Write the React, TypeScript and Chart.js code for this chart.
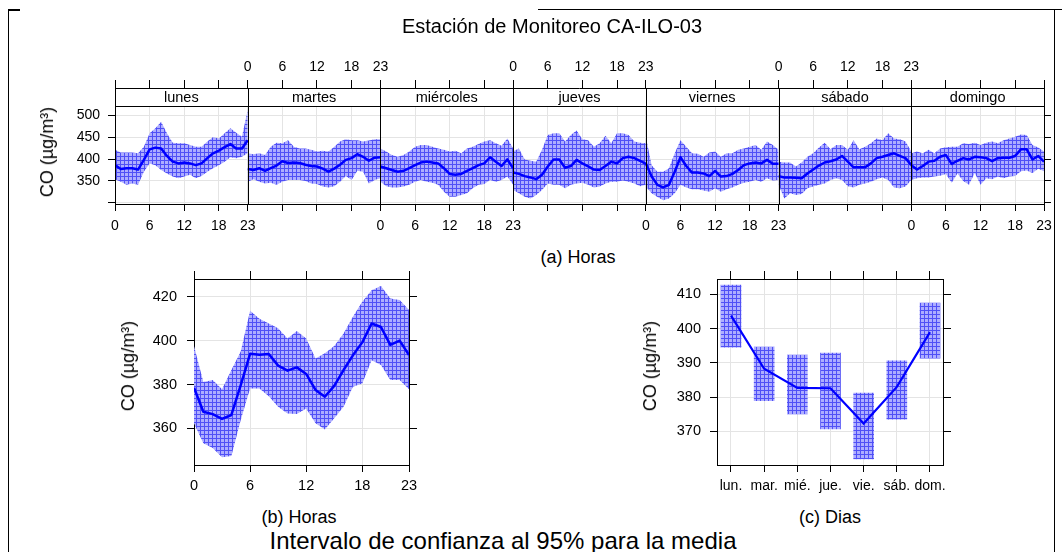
import React, { useEffect, useRef } from 'react';
import { Chart, registerables } from 'chart.js';

Chart.register(...registerables);

const FONT = "'Liberation Sans', Arial, Helvetica, sans-serif";

// ---------- categories ----------
const dayNames = ['lunes', 'martes', 'miércoles', 'jueves', 'viernes', 'sábado', 'domingo'];
const dayShort = ['lun.', 'mar.', 'mié.', 'jue.', 'vie.', 'sáb.', 'dom.'];
const hours = [0, 1, 2, 3, 4, 5, 6, 7, 8, 9, 10, 11, 12, 13, 14, 15, 16, 17, 18, 19, 20, 21, 22, 23];
const hourTicks = [0, 6, 12, 18, 23];

// ---------- (a) hour x weekday ----------
const lunesMean = [386, 377, 379, 379, 376, 398, 422, 426, 424, 407, 394, 390, 392, 390, 386, 390, 402, 413, 419, 427, 434, 424, 424, 443];
const lunesUpper = [421, 415, 415, 415, 413, 428, 459, 470, 485, 459, 437, 436, 436, 432, 428, 428, 440, 450, 447, 459, 470, 460, 451, 512];
const lunesLower = [354, 348, 341, 344, 341, 371, 390, 386, 375, 367, 360, 356, 360, 364, 356, 361, 371, 379, 386, 394, 404, 402, 405, 413];

const martesMean = [377, 375, 379, 373, 379, 385, 395, 391, 392, 391, 387, 384, 383, 378, 371, 378, 387, 398, 402, 411, 405, 396, 403, 404];
const martesUpper = [413, 411, 413, 409, 428, 437, 436, 443, 428, 424, 424, 421, 417, 419, 417, 428, 440, 445, 443, 443, 440, 442, 445, 445];
const martesLower = [348, 354, 348, 344, 346, 341, 348, 352, 352, 352, 350, 344, 343, 337, 335, 338, 348, 361, 352, 373, 371, 344, 352, 356];

const miercolesMean = [383, 379, 375, 371, 373, 379, 386, 392, 394, 392, 390, 379, 366, 364, 366, 373, 379, 386, 390, 404, 394, 384, 399, 379];
const miercolesUpper = [424, 417, 409, 405, 409, 417, 428, 432, 432, 428, 424, 421, 417, 419, 413, 424, 428, 434, 440, 443, 436, 430, 447, 424];
const miercolesLower = [348, 338, 335, 335, 337, 341, 348, 352, 348, 346, 341, 325, 314, 314, 318, 322, 333, 341, 343, 352, 348, 352, 360, 341];

const juevesMean = [369, 366, 361, 358, 354, 364, 383, 399, 399, 380, 384, 398, 390, 383, 376, 375, 384, 394, 390, 402, 405, 402, 396, 389];
const juevesUpper = [418, 424, 399, 396, 394, 421, 455, 459, 459, 440, 455, 465, 445, 443, 428, 436, 453, 436, 459, 459, 455, 440, 437, 436];
const juevesLower = [329, 322, 314, 310, 318, 329, 344, 341, 341, 333, 341, 344, 346, 341, 335, 337, 344, 348, 348, 351, 348, 344, 338, 341];

const viernesMean = [390, 360, 341, 335, 341, 371, 404, 384, 369, 369, 367, 361, 373, 360, 361, 366, 375, 386, 390, 392, 390, 398, 389, 389];
const viernesUpper = [451, 386, 371, 371, 379, 413, 443, 428, 413, 412, 405, 415, 417, 405, 413, 413, 421, 424, 428, 432, 421, 440, 432, 421];
const viernesLower = [337, 322, 313, 306, 310, 322, 341, 335, 331, 331, 328, 325, 333, 325, 331, 335, 341, 346, 348, 352, 348, 356, 351, 352];

const sabadoMean = [361, 358, 358, 357, 356, 367, 376, 385, 392, 395, 399, 407, 394, 381, 381, 381, 390, 402, 405, 409, 413, 407, 402, 386];
const sabadoUpper = [394, 392, 392, 383, 392, 405, 413, 426, 437, 422, 432, 432, 421, 443, 422, 428, 436, 447, 443, 459, 447, 445, 440, 417];
const sabadoLower = [341, 310, 322, 318, 320, 333, 337, 341, 344, 352, 356, 352, 338, 335, 341, 344, 348, 354, 358, 352, 335, 333, 337, 352];

const domingoMean = [386, 376, 384, 394, 396, 405, 409, 389, 396, 402, 399, 405, 404, 402, 395, 402, 403, 403, 407, 422, 422, 399, 407, 394];
const domingoUpper = [413, 417, 413, 421, 413, 424, 427, 428, 428, 436, 434, 437, 432, 437, 440, 436, 443, 447, 451, 456, 455, 432, 426, 417];
const domingoLower = [352, 356, 358, 358, 360, 362, 366, 346, 367, 350, 341, 368, 341, 356, 354, 360, 356, 360, 361, 372, 374, 368, 378, 372];

// ---------- (b) hours ----------
const hourMean = [378.5, 367.6, 366.5, 364.3, 366.1, 379.7, 394.0, 393.6, 393.9, 388.6, 386.3, 387.8, 384.8, 377.5, 374.4, 379.4, 386.6, 393.3, 399.2, 407.8, 406.2, 398.1, 400.0, 393.4];
const hourUpper = [397.5, 381.1, 382.0, 377.8, 386.6, 395.0, 413.6, 410.0, 407.8, 405.6, 401.0, 404.4, 401.0, 391.9, 394.2, 397.5, 403.3, 410.9, 417.7, 423.0, 424.9, 419.2, 418.5, 414.0];
const hourLower = [362.3, 353.2, 351.0, 346.8, 347.4, 363.8, 378.2, 378.2, 374.7, 369.9, 366.8, 366.5, 369.1, 362.3, 359.5, 364.6, 369.9, 379.0, 380.5, 391.1, 388.9, 382.0, 382.0, 377.8];

// ---------- (c) weekdays ----------
const dayMean = [403.8, 388.3, 382.7, 382.6, 372.3, 383.0, 399.0];
const dayLower = [394.6, 379.0, 375.1, 370.7, 362.0, 373.6, 391.4];
const dayUpper = [412.7, 394.6, 392.3, 392.9, 381.2, 390.6, 407.5];

// ---------- axis ticks ----------
const topYTicks = [300, 350, 400, 450, 500];
const hourYTicks = [360, 380, 400, 420];
const dayYTicks = [370, 380, 390, 400, 410];
const dayXTicks = [0, 1, 2, 3, 4, 5, 6];

const weekMeans = [lunesMean, martesMean, miercolesMean, juevesMean, viernesMean, sabadoMean, domingoMean];
const weekUppers = [lunesUpper, martesUpper, miercolesUpper, juevesUpper, viernesUpper, sabadoUpper, domingoUpper];
const weekLowers = [lunesLower, martesLower, miercolesLower, juevesLower, viernesLower, sabadoLower, domingoLower];

const SPAN = 23; // each weekday panel spans hour 0..23
const GRID = '#e4e4e4';
const BLUE = '#0000ff';

function makePattern(): any {
  const c = document.createElement('canvas');
  c.width = 4;
  c.height = 4;
  const g = c.getContext('2d') as CanvasRenderingContext2D;
  g.fillStyle = '#adadff';
  g.fillRect(0, 0, 4, 4);
  g.fillStyle = '#5050f6';
  g.fillRect(0, 0, 4, 1);
  g.fillRect(0, 0, 1, 4);
  return g.createPattern(c, 'repeat');
}

const panelTicks: number[] = [];
dayNames.forEach((_, d) => {
  hourTicks.forEach((h) => {
    const v = d * SPAN + h;
    if (panelTicks.indexOf(v) < 0) panelTicks.push(v);
  });
});

function bottomLabel(v: number): string {
  const k = v / SPAN;
  if (Number.isInteger(k)) return k % 2 === 0 ? '0' : '23';
  const d = Math.floor(k);
  return d % 2 === 0 ? String(v - d * SPAN) : '';
}
function topLabel(v: number): string {
  const k = v / SPAN;
  if (Number.isInteger(k)) {
    if (k === 0 || k === 7) return '';
    return k % 2 === 1 ? '0' : '23';
  }
  const d = Math.floor(k);
  return d % 2 === 1 ? String(v - d * SPAN) : '';
}

function setTicks(vals: number[]) {
  return (scale: any) => {
    scale.ticks = vals.map((v) => ({ value: v }));
  };
}

function baseOpts() {
  return {
    responsive: false,
    animation: false as const,
    devicePixelRatio: 1,
    events: [] as any[],
    layout: { padding: 0 },
    plugins: {
      legend: { display: false },
      tooltip: { enabled: false },
      title: { display: false },
      filler: { drawTime: 'beforeDatasetsDraw' },
    },
  };
}

function axis(opts: any) {
  const {
    position, min, max, ticks, label, size, padding, tickLength, gridOn, fit, gridColor,
  } = opts;
  const horizontal = position === 'top' || position === 'bottom';
  return {
    type: 'linear',
    position,
    min,
    max,
    offset: false,
    afterBuildTicks: setTicks(ticks),
    afterFit: (s: any) => {
      if (horizontal) s.height = fit;
      else s.width = fit;
    },
    ticks: {
      autoSkip: false,
      maxRotation: 0,
      minRotation: 0,
      padding,
      color: '#000',
      font: { family: FONT, size },
      callback: label,
    },
    grid: {
      display: true,
      drawOnChartArea: gridOn,
      drawTicks: true,
      tickLength,
      tickWidth: 1,
      tickColor: '#000',
      color: gridColor || GRID,
      lineWidth: 1,
      offset: false,
    },
    border: { display: true, color: '#000', width: 1 },
  };
}

const stripPlugin = {
  id: 'strips',
  afterDatasetsDraw(chart: any) {
    const { ctx, chartArea, scales } = chart;
    const xs = scales.x;
    const L = Math.round(chartArea.left);
    const R = Math.round(chartArea.right);
    const T = Math.round(chartArea.top);
    const B = Math.round(chartArea.bottom);
    const SB = T + 18;
    ctx.save();
    ctx.fillStyle = '#ffffff';
    ctx.fillRect(L, T, R - L, SB - T);
    ctx.strokeStyle = '#000';
    ctx.lineWidth = 1;
    ctx.beginPath();
    ctx.moveTo(L, T + 0.5);
    ctx.lineTo(R, T + 0.5);
    ctx.moveTo(L, SB + 0.5);
    ctx.lineTo(R, SB + 0.5);
    for (let k = 0; k <= dayNames.length; k++) {
      const x = Math.round(xs.getPixelForValue(k * SPAN)) + 0.5;
      ctx.moveTo(x, T);
      ctx.lineTo(x, B + 1);
    }
    ctx.stroke();
    ctx.fillStyle = '#000';
    ctx.font = `14.5px ${FONT}`;
    ctx.textAlign = 'center';
    ctx.textBaseline = 'middle';
    dayNames.forEach((name, d) => {
      const cx = (xs.getPixelForValue(d * SPAN) + xs.getPixelForValue((d + 1) * SPAN)) / 2;
      ctx.fillText(name, cx, (T + SB) / 2 + 1);
    });
    ctx.restore();
  },
};

function configA(pattern: any): any {
  const datasets: any[] = [];
  dayNames.forEach((_, d) => {
    const lowerIdx = datasets.length;
    datasets.push({
      type: 'line',
      data: hours.map((h, i) => ({ x: d * SPAN + h, y: weekLowers[d][i] })),
      borderWidth: 0,
      borderColor: 'rgba(0,0,0,0)',
      pointRadius: 0,
      fill: false,
      order: 1,
    });
    datasets.push({
      type: 'line',
      data: hours.map((h, i) => ({ x: d * SPAN + h, y: weekUppers[d][i] })),
      borderWidth: 0,
      borderColor: 'rgba(0,0,0,0)',
      backgroundColor: pattern,
      pointRadius: 0,
      fill: lowerIdx,
      order: 1,
    });
    datasets.push({
      type: 'line',
      data: hours.map((h, i) => ({ x: d * SPAN + h, y: weekMeans[d][i] })),
      borderWidth: 2.5,
      borderColor: BLUE,
      borderJoinStyle: 'round',
      pointRadius: 0,
      fill: false,
      tension: 0,
      order: 0,
    });
  });
  const yMin = 297.3;
  const yMax = 562.1;
  return {
    type: 'line',
    data: { datasets },
    plugins: [stripPlugin],
    options: {
      ...baseOpts(),
      scales: {
        x: axis({ position: 'bottom', min: 0, max: SPAN * 7, ticks: panelTicks, label: (v: number) => bottomLabel(v), size: 14, padding: 7, tickLength: 7, gridOn: true, fit: 36 }),
        x2: axis({ position: 'top', min: 0, max: SPAN * 7, ticks: panelTicks, label: (v: number) => topLabel(v), size: 14, padding: 4, tickLength: 8, gridOn: false, fit: 88 }),
        y: axis({ position: 'left', min: yMin, max: yMax, ticks: topYTicks, label: (v: number) => (v === 300 ? '' : String(v)), size: 14, padding: 8, tickLength: 7, gridOn: true, fit: 115 }),
        y2: axis({ position: 'right', min: yMin, max: yMax, ticks: topYTicks, label: () => '', size: 14, padding: 0, tickLength: 7, gridOn: false, fit: 18 }),
      },
    },
  };
}

function configB(pattern: any): any {
  const yMin = 343.3;
  const yMax = 428.1;
  return {
    type: 'line',
    data: {
      datasets: [
        { data: hours.map((h, i) => ({ x: h, y: hourLower[i] })), borderWidth: 0, borderColor: 'rgba(0,0,0,0)', pointRadius: 0, fill: false, order: 1 },
        { data: hours.map((h, i) => ({ x: h, y: hourUpper[i] })), borderWidth: 0, borderColor: 'rgba(0,0,0,0)', backgroundColor: pattern, pointRadius: 0, fill: 0, order: 1 },
        { data: hours.map((h, i) => ({ x: h, y: hourMean[i] })), borderWidth: 2.5, borderColor: BLUE, borderJoinStyle: 'round', pointRadius: 0, fill: false, tension: 0, order: 0 },
      ],
    },
    options: {
      ...baseOpts(),
      scales: {
        x: axis({ position: 'bottom', min: 0, max: 23, ticks: hourTicks, label: (v: number) => String(v), size: 14.5, padding: 5.5, tickLength: 7, gridOn: true, fit: 35 }),
        x2: axis({ position: 'top', min: 0, max: 23, ticks: hourTicks, label: () => '', size: 14.5, padding: 0, tickLength: 8, gridOn: false, fit: 29 }),
        y: axis({ position: 'left', min: yMin, max: yMax, ticks: hourYTicks, label: (v: number) => String(v), size: 14.5, padding: 10, tickLength: 7, gridOn: true, fit: 94 }),
        y2: axis({ position: 'right', min: yMin, max: yMax, ticks: hourYTicks, label: () => '', size: 14.5, padding: 0, tickLength: 8, gridOn: false, fit: 31 }),
      },
    },
  };
}

function configC(pattern: any): any {
  const yMin = 360.2;
  const yMax = 414.5;
  const xMin = -0.422;
  const xMax = 6.392;
  return {
    type: 'bar',
    data: {
      datasets: [
        {
          type: 'line',
          data: dayXTicks.map((x, i) => ({ x, y: dayMean[i] })),
          borderWidth: 2.2,
          borderColor: BLUE,
          pointRadius: 0,
          fill: false,
          tension: 0,
          order: 0,
        },
        {
          type: 'bar',
          data: dayXTicks.map((x, i) => ({ x, y: [dayLower[i], dayUpper[i]] })),
          backgroundColor: pattern,
          borderWidth: 0,
          barThickness: 20,
          order: 1,
        },
      ],
    },
    options: {
      ...baseOpts(),
      scales: {
        x: axis({ position: 'bottom', min: xMin, max: xMax, ticks: dayXTicks, label: (v: number) => dayShort[v] || '', size: 14, padding: 5.5, tickLength: 7, gridOn: true, fit: 35 }),
        x2: axis({ position: 'top', min: xMin, max: xMax, ticks: dayXTicks, label: () => '', size: 14, padding: 0, tickLength: 8, gridOn: false, fit: 29 }),
        y: axis({ position: 'left', min: yMin, max: yMax, ticks: dayYTicks, label: (v: number) => String(v), size: 14.5, padding: 9, tickLength: 7, gridOn: true, fit: 97 }),
        y2: axis({ position: 'right', min: yMin, max: yMax, ticks: dayYTicks, label: () => '', size: 14.5, padding: 0, tickLength: 8, gridOn: false, fit: 37 }),
      },
    },
  };
}

function Text(props: { x: number; y: number; size: number; text: string; rotate?: boolean }) {
  const { x, y, size, text, rotate } = props;
  return (
    <div
      style={{
        position: 'absolute',
        left: x,
        top: y,
        transform: `translate(-50%, -50%)${rotate ? ' rotate(-90deg)' : ''}`,
        fontSize: size,
        fontWeight: 'normal',
        lineHeight: 1,
        whiteSpace: 'nowrap',
        fontFamily: FONT,
        color: '#000',
      }}
    >
      {text}
    </div>
  );
}

export default function App() {
  const aRef = useRef<HTMLCanvasElement>(null);
  const bRef = useRef<HTMLCanvasElement>(null);
  const cRef = useRef<HTMLCanvasElement>(null);

  useEffect(() => {
    const pattern = makePattern();
    const charts = [
      new Chart(aRef.current as HTMLCanvasElement, configA(pattern)),
      new Chart(bRef.current as HTMLCanvasElement, configB(pattern)),
      new Chart(cRef.current as HTMLCanvasElement, configC(pattern)),
    ];
    return () => charts.forEach((c) => c.destroy());
  }, []);

  const line = (l: number, t: number, w: number, h: number) => (
    <div style={{ position: 'absolute', left: l, top: t, width: w, height: h, background: '#000' }} />
  );

  return (
    <div style={{ position: 'fixed', left: 0, top: 0, width: 1062, height: 552, background: '#fff', overflow: 'hidden' }}>
      {line(8, 9, 12, 2)}
      {line(538, 9, 524, 1)}
      {line(8, 9, 1, 543)}
      {line(1054, 9, 1, 543)}
      <canvas ref={aRef} width={1062} height={240} style={{ position: 'absolute', left: 0, top: 0, width: 1062, height: 240 }} />
      <canvas ref={bRef} width={340} height={250} style={{ position: 'absolute', left: 100, top: 250, width: 340, height: 250 }} />
      <canvas ref={cRef} width={360} height={250} style={{ position: 'absolute', left: 620, top: 250, width: 360, height: 250 }} />
      <Text x={552} y={26} size={20} text="Estación de Monitoreo CA-ILO-03" />
      <Text x={47} y={152} size={18} text="CO (µg/m³)" rotate />
      <Text x={578} y={257} size={18} text="(a) Horas" />
      <Text x={128} y={366} size={18} text="CO (µg/m³)" rotate />
      <Text x={650} y={366} size={18} text="CO (µg/m³)" rotate />
      <Text x={299} y={517} size={18} text="(b) Horas" />
      <Text x={830} y={517} size={18} text="(c) Dias" />
      <Text x={503} y={541} size={24} text="Intervalo de confianza al 95% para la media" />
    </div>
  );
}
